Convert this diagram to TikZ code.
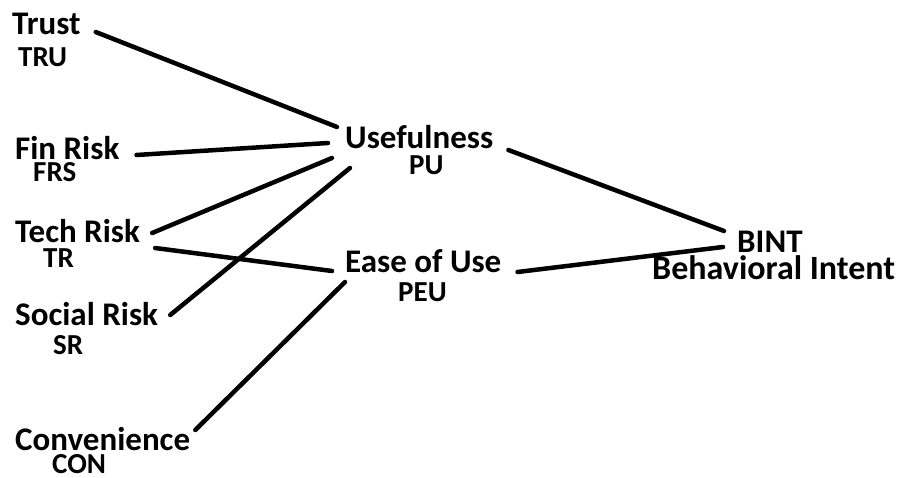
\documentclass[tikz,border=0pt]{standalone}
\usepackage{fontspec}
\setmainfont{Carlito}
\begin{document}
\begin{tikzpicture}[x=1pt,y=1pt,
  lbl/.style={anchor=base west,inner sep=0pt,font=\fontsize{33}{36}\selectfont\bfseries},
  abbr/.style={anchor=base west,inner sep=0pt,font=\fontsize{29}{32}\selectfont\bfseries},
  link/.style={line width=4.5pt,line cap=round}]
\useasboundingbox (0,0) rectangle (903,-478);
% left column
\node[lbl]  (trust) at (12,-35)  {Trust};
\node[abbr] (tru)   at (18,-67)  {TRU};
\node[lbl]  (fin)   at (15,-160) {Fin Risk};
\node[abbr] (frs)   at (33,-182) {FRS};
\node[lbl]  (tech)  at (15,-243) {Tech Risk};
\node[abbr] (tr)    at (43,-268) {TR};
\node[lbl]  (soc)   at (15,-326) {Social Risk};
\node[abbr] (sr)    at (53,-355) {SR};
\node[lbl]  (conv)  at (15,-450) {Convenience};
\node[abbr] (con)   at (52,-474) {CON};
% middle
\node[lbl]  (use)   at (345,-149) {Usefulness};
\node[abbr] (pu)    at (409,-175) {PU};
\node[lbl]  (ease)  at (345,-273) {Ease of Use};
\node[abbr] (peu)   at (398,-302) {PEU};
% right
\node[lbl]  (bint)  at (737,-253) {BINT};
\node[lbl,font=\fontsize{34}{36}\selectfont\bfseries] (behav) at (652,-280) {Behavioral Intent};
% connectors
\draw[link] ([shift={(15,3)}]trust.base east) -- ([shift={(-8,22)}]use.base west);
\draw[link] ([shift={(17,5)}]fin.base east) -- ([shift={(-17,6)}]use.base west);
\draw[link] ([shift={(12,10)}]tech.base east) -- ([shift={(-13,-9)}]use.base west);
\draw[link] ([shift={(12,11)}]soc.base east) -- ([shift={(5,-19)}]use.base west);
\draw[link] ([shift={(15,-5)}]tech.base east) -- ([shift={(-13,2)}]ease.base west);
\draw[link] ([shift={(5,20)}]conv.base east) -- ([shift={(0,-9)}]ease.base west);
\draw[link] ([shift={(15,-1)}]use.base east) -- ([shift={(-13,22)}]bint.base west);
\draw[link] ([shift={(16,1)}]ease.base east) -- ([shift={(-14,6)}]bint.base west);
\end{tikzpicture}
\end{document}
